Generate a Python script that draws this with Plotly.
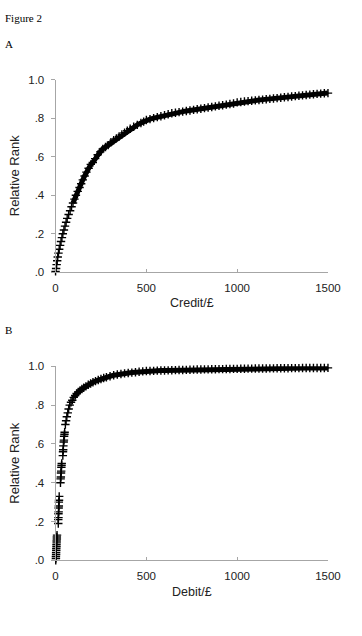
import plotly.graph_objects as go

# ---- data ----
credit_x = [0, 3, 6, 9, 12, 16, 20, 25, 30, 35, 40, 46, 52, 58, 64, 72, 80, 88, 96, 104,
            112, 122, 132, 141, 150, 160, 170, 182, 194, 205, 218, 232, 246, 260, 275, 290,
            305, 320, 335, 350, 365, 380, 395, 411, 430, 450, 470, 485, 500, 520, 540, 560,
            580, 600, 620, 640, 660, 680, 700, 720, 740, 760, 780, 800, 820, 840, 860, 880,
            900, 920, 940, 960, 980, 1000, 1020, 1040, 1060, 1080, 1100, 1120, 1140, 1160,
            1180, 1200, 1220, 1240, 1260, 1280, 1300, 1320, 1340, 1360, 1380, 1400, 1420,
            1440, 1460, 1480, 1500]
credit_rank = [0.005, 0.02, 0.04, 0.06, 0.08, 0.10, 0.12, 0.14, 0.16, 0.18, 0.20, 0.22, 0.24,
               0.26, 0.28, 0.30, 0.32, 0.34, 0.36, 0.38, 0.40, 0.42, 0.44, 0.46, 0.48, 0.50,
               0.52, 0.54, 0.56, 0.57, 0.59, 0.61, 0.625, 0.64, 0.65, 0.66, 0.675, 0.685,
               0.695, 0.705, 0.715, 0.725, 0.735, 0.745, 0.755, 0.765, 0.775, 0.782, 0.79,
               0.795, 0.80, 0.805, 0.81, 0.815, 0.82, 0.825, 0.828, 0.831, 0.834, 0.837,
               0.84, 0.843, 0.846, 0.849, 0.852, 0.855, 0.858, 0.861, 0.864, 0.867, 0.870,
               0.873, 0.876, 0.882, 0.884, 0.886, 0.888, 0.890, 0.892, 0.894, 0.896, 0.898,
               0.900, 0.902, 0.904, 0.906, 0.908, 0.910, 0.912, 0.914, 0.916, 0.918, 0.920,
               0.922, 0.924, 0.926, 0.927, 0.929, 0.930]

debit_x = [1, 2, 2, 3, 3, 4, 4, 5, 5, 6, 6, 7, 7, 8,
           15, 15, 16, 16, 17, 17, 18, 18, 19, 20,
           27, 28, 29, 30, 31, 32, 33, 34,
           40, 41, 42, 43, 45, 46, 47, 49, 50,
           54, 58, 62, 67, 72, 78, 85, 92, 100, 108, 116, 125, 135, 145, 155, 167, 180,
           193, 206, 220, 235, 250, 265, 280, 300, 320, 340, 360, 380, 400, 420, 440, 460,
           480, 500, 520, 540, 560, 580, 600, 620, 640, 660, 680, 700, 720, 740, 760, 780,
           800, 820, 840, 860, 880, 900, 920, 940, 960, 980, 1000, 1020, 1040, 1060, 1080,
           1100, 1120, 1140, 1160, 1180, 1200, 1220, 1240, 1260, 1280, 1300, 1320, 1340,
           1360, 1380, 1400, 1420, 1440, 1460, 1480, 1500]
debit_rank = [0.00, 0.01, 0.02, 0.03, 0.04, 0.05, 0.06, 0.07, 0.08, 0.09, 0.10, 0.11, 0.12, 0.13,
              0.19, 0.21, 0.22, 0.24, 0.25, 0.27, 0.28, 0.30, 0.31, 0.33,
              0.40, 0.42, 0.43, 0.45, 0.46, 0.48, 0.49, 0.50,
              0.54, 0.56, 0.57, 0.59, 0.61, 0.62, 0.64, 0.65, 0.66,
              0.70, 0.72, 0.74, 0.76, 0.78, 0.80, 0.815, 0.825, 0.84, 0.85, 0.86, 0.868,
              0.876, 0.883, 0.89, 0.897, 0.905, 0.912, 0.918, 0.924, 0.93, 0.935, 0.94,
              0.944, 0.949, 0.954, 0.958, 0.961, 0.964, 0.966, 0.968, 0.970, 0.972, 0.974,
              0.976, 0.9765, 0.977, 0.978, 0.9785, 0.979, 0.9795, 0.980, 0.9805, 0.981,
              0.9815, 0.982, 0.9825, 0.983, 0.9835, 0.984, 0.9843, 0.9846, 0.985, 0.9853,
              0.9856, 0.986, 0.9863, 0.9866, 0.987, 0.9873, 0.9876, 0.9879, 0.9882, 0.9885,
              0.9888, 0.989, 0.9892, 0.9894, 0.9896, 0.9898, 0.99, 0.9902, 0.9904, 0.9906,
              0.9908, 0.991, 0.9912, 0.9913, 0.9914, 0.9915, 0.9916, 0.9917, 0.9918, 0.9919,
              0.992]

x_ticks = [0, 500, 1000, 1500]
y_ticks = [0, 0.2, 0.4, 0.6, 0.8, 1.0]
y_ticktext = [".0", ".2", ".4", ".6", ".8", "1.0"]

W, H = 362, 636
AXIS_GRAY = "#a6a6a6"
SANS = "Liberation Sans, Arial, sans-serif"
SERIF = "Liberation Serif, Times New Roman, serif"


def px(x):
    return x / W


def py(y):
    return 1 - y / H


marker = dict(symbol="cross-thin", size=6, line=dict(color="black", width=1.4), color="black")

# dense parts of each curve, where the crosses merge into a solid band
c_dense = [i for i, v in enumerate(credit_rank) if v >= 0.36]
d_dense = [i for i, v in enumerate(debit_rank) if v >= 0.84]

fig = go.Figure()
fig.add_trace(go.Scatter(x=[credit_x[i] for i in c_dense], y=[credit_rank[i] for i in c_dense],
                         mode="lines", line=dict(color="black", width=5),
                         xaxis="x", yaxis="y", cliponaxis=False, showlegend=False,
                         hoverinfo="skip"))
fig.add_trace(go.Scatter(x=credit_x, y=credit_rank, mode="markers", marker=marker,
                         xaxis="x", yaxis="y", cliponaxis=False, showlegend=False))
fig.add_trace(go.Scatter(x=[debit_x[i] for i in d_dense], y=[debit_rank[i] for i in d_dense],
                         mode="lines", line=dict(color="black", width=5),
                         xaxis="x2", yaxis="y2", cliponaxis=False, showlegend=False,
                         hoverinfo="skip"))
fig.add_trace(go.Scatter(x=debit_x, y=debit_rank, mode="markers", marker=marker,
                         xaxis="x2", yaxis="y2", cliponaxis=False, showlegend=False))

xdom = [px(55), px(340)]
xcommon = dict(range=[0, 1500], tickvals=x_ticks, ticks="inside", ticklen=3, tickcolor=AXIS_GRAY,
               showline=True, linecolor=AXIS_GRAY, linewidth=1, showgrid=False, zeroline=False,
               tickfont=dict(family=SANS, size=11.5, color="#222"), ticklabelstandoff=5,
               fixedrange=True)
ycommon = dict(range=[0, 1], tickvals=y_ticks, ticktext=y_ticktext, ticks="outside", ticklen=4,
               tickcolor=AXIS_GRAY, showline=True, linecolor=AXIS_GRAY, linewidth=1,
               showgrid=False, zeroline=False, ticklabelstandoff=4,
               tickfont=dict(family=SANS, size=11.5, color="#222"), fixedrange=True)

fig.update_layout(
    width=W, height=H, margin=dict(l=0, r=0, t=0, b=0),
    paper_bgcolor="white", plot_bgcolor="white",
    xaxis=dict(domain=xdom, anchor="y", **xcommon),
    yaxis=dict(domain=[py(271.5), py(75)], anchor="x", **ycommon),
    xaxis2=dict(domain=xdom, anchor="y2", **xcommon),
    yaxis2=dict(domain=[py(565), py(367.3)], anchor="x2", **ycommon),
)

ann = []
ann.append(dict(text="Figure 2", x=px(0), y=py(12), xanchor="left", yanchor="middle",
                font=dict(family=SERIF, size=11, color="black")))
ann.append(dict(text="A", x=px(0), y=py(39), xanchor="left", yanchor="middle",
                font=dict(family=SERIF, size=11, color="black")))
ann.append(dict(text="B", x=px(0), y=py(330), xanchor="left", yanchor="middle",
                font=dict(family=SERIF, size=11, color="black")))
ann.append(dict(text="Credit/£", x=px(197.5), y=py(303), xanchor="center", yanchor="middle",
                font=dict(family=SANS, size=12.5, color="#222")))
ann.append(dict(text="Debit/£", x=px(197.5), y=py(597), xanchor="center", yanchor="middle",
                font=dict(family=SANS, size=12.5, color="#222")))
ann.append(dict(text="Relative Rank", x=px(12), y=py(173), xanchor="center", yanchor="middle",
                textangle=-90, font=dict(family=SANS, size=13, color="#222")))
ann.append(dict(text="Relative Rank", x=px(12), y=py(466), xanchor="center", yanchor="middle",
                textangle=-90, font=dict(family=SANS, size=13, color="#222")))
for a in ann:
    a.update(xref="paper", yref="paper", showarrow=False)
fig.update_layout(annotations=ann)

fig.write_html("out.html")
